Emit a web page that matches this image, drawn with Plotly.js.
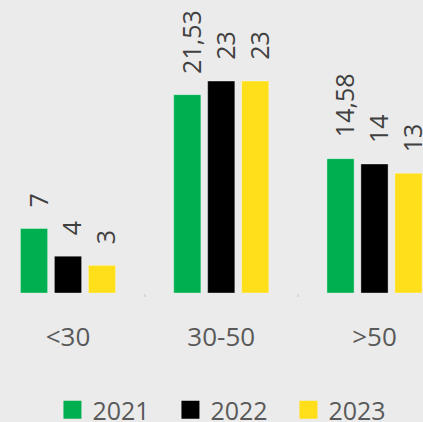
<!DOCTYPE html>
<html>
<head>
<meta charset="utf-8">
<script src="https://cdn.plot.ly/plotly-3.0.1.min.js"></script>
<style>
  html, body { margin: 0; padding: 0; background: #ebebeb; }
  #chart { width: 423px; height: 422px; }
</style>
</head>
<body>
<div id="chart"></div>
<script>
// age groups and yearly values
const categories = ['<30', '30-50', '>50'];
const years = ['2021', '2022', '2023'];
const values2021 = [7, 21.53, 14.58];
const values2022 = [4, 23, 14];
const values2023 = [3, 23, 13];
const seriesValues = [values2021, values2022, values2023];
const seriesColors = ['#00b050', '#000000', '#ffde1a'];

const FONT = 'Open Sans, Noto Sans, sans-serif';
const SLOT = 34; // px between bars inside a group

const fmt = v => String(v).replace('.', ',');

const traces = [];
seriesValues.forEach((vals, i) => {
    traces.push({
        type: 'bar',
        name: years[i],
        x: categories,
        y: vals,
        legendgroup: years[i],
        showlegend: false,
        marker: {
            color: seriesColors[i],
            line: { color: 'rgba(255,255,255,0.35)', width: 1 }
        },
        hoverinfo: 'skip'
    });
});

// legend-only entries so the swatches can be bigger than the bar default
seriesValues.forEach((vals, i) => {
    traces.push({
        type: 'scatter',
        mode: 'markers',
        name: years[i],
        x: [null],
        y: [null],
        legendgroup: years[i],
        marker: {
            symbol: 'square',
            size: 16,
            color: seriesColors[i],
            line: { color: seriesColors[i], width: 2 }
        }
    });
});

// rotated value labels above each bar
const annotations = [];
seriesValues.forEach((vals, i) => {
    vals.forEach((v, j) => {
        annotations.push({
            x: categories[j],
            y: v,
            xref: 'x',
            yref: 'y',
            text: fmt(v),
            textangle: -90,
            showarrow: false,
            xanchor: 'center',
            yanchor: 'bottom',
            xshift: (i - 1) * SLOT + 3,
            yshift: 19,
            font: { family: FONT, size: 25, color: '#404040' }
        });
    });
});

const layout = {
    width: 423,
    height: 422,
    margin: { l: 0, r: 0, t: 0, b: 129, pad: 0, autoexpand: false },
    paper_bgcolor: '#ebebeb',
    plot_bgcolor: '#ebebeb',
    barmode: 'group',
    bargap: 0.335,
    bargroupgap: 0.2,
    showlegend: true,
    legend: {
        orientation: 'h',
        x: 0.124,
        xanchor: 'left',
        y: -0.321,
        yanchor: 'top',
        entrywidth: 73,
        entrywidthmode: 'pixels',
        bgcolor: 'rgba(0,0,0,0)',
        font: { family: FONT, size: 25, color: '#595959' }
    },
    xaxis: {
        type: 'category',
        range: [-0.4437, 2.3165],
        showgrid: false,
        zeroline: false,
        showline: false,
        ticks: 'outside',
        tickson: 'boundaries',
        ticklen: 3,
        tickwidth: 2,
        tickcolor: '#d9d9d9',
        ticklabelstandoff: 26,
        tickfont: { family: FONT, size: 26, color: '#595959' },
        fixedrange: true
    },
    yaxis: {
        range: [0, 31.8],
        showgrid: false,
        zeroline: false,
        showline: false,
        showticklabels: false,
        ticks: '',
        fixedrange: true
    },
    annotations: annotations
};

Plotly.newPlot('chart', traces, layout, { displayModeBar: false, staticPlot: true });
</script>
</body>
</html>
